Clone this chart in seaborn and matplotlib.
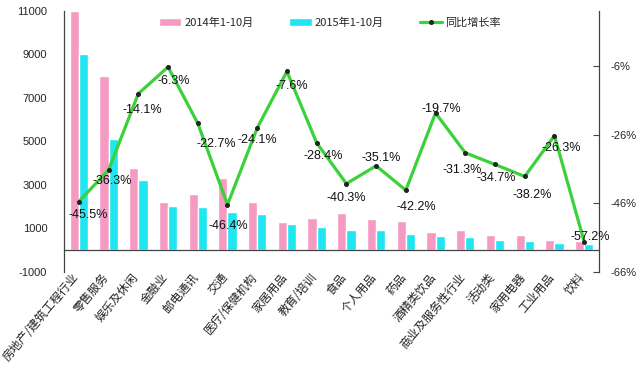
import numpy as np
import pandas as pd
import matplotlib
matplotlib.use('Agg')
import matplotlib.pyplot as plt
import seaborn as sns
from matplotlib.ticker import FixedLocator

# Data
categories = ['房地产/建筑工程行业', '零售服务', '娱乐及休闲', '金融业', '邮电通讯', '交通',
              '医疗/保健机构', '家居用品', '教育/培训', '食品', '个人用品', '药品',
              '酒精类饮品', '商业及服务性行业', '活动类', '家用电器', '工业用品', '饮料']
sales_2014 = [11000, 8000, 3800, 2200, 2600, 3300, 2200, 1300, 1500, 1700, 1450, 1320,
              820, 920, 720, 720, 460, 420]
sales_2015 = [9000, 5100, 3250, 2050, 2000, 1750, 1650, 1200, 1050, 950, 920, 750,
              640, 610, 460, 430, 340, 280]
growth = [-45.5, -36.3, -14.1, -6.3, -22.7, -46.4, -24.1, -7.6, -28.4, -40.3, -35.1,
          -42.2, -19.7, -31.3, -34.7, -38.2, -26.3, -57.2]
series_names = ['2014年1-10月', '2015年1-10月']
line_name = '同比增长率'
left_ticks = [-1000, 1000, 3000, 5000, 7000, 9000, 11000]
right_ticks = [-66, -46, -26, -6]

# label nudges (pixels) so the percent labels sit like in the original
label_offsets = [(9, -13), (4, -11), (4, -16), (6, -14), (19, -21), (1, -21), (0, -12),
                 (5, -15), (7, -13), (0, -14), (5, 8), (10, -17), (6, 4), (-3, -17),
                 (1, -14), (7, -19), (7, -12), (6, 5)]

sns.set_style('white')
plt.rcParams['font.family'] = ['Noto Sans CJK SC', 'DejaVu Sans']

pink = '#F59AC3'
cyan = '#1FE6F0'
green = '#3BD13B'

df = pd.DataFrame({
    'cat': categories * 2,
    'value': sales_2014 + sales_2015,
    'year': [series_names[0]] * len(categories) + [series_names[1]] * len(categories),
})

fig = plt.figure(figsize=(6.4, 3.66), dpi=100)
ax = fig.add_axes([0.1, 0.257, 0.836, 0.713])

sns.barplot(data=df, x='cat', y='value', hue='year', palette=[pink, cyan],
            width=0.62, ax=ax, saturation=1)
ax.legend_.remove()
ax.set_xlim(-0.5, len(categories) - 0.5)
ax.set_ylim(-1000, 11000)
ax.set_yticks(left_ticks)
ax.set_yticklabels([str(t) for t in left_ticks], fontsize=8, family='Liberation Sans')
ax.set_xlabel('')
ax.set_ylabel('')

# x axis sits at zero
ax.spines['bottom'].set_position(('data', 0))
ax.spines['top'].set_visible(False)
ax.spines['right'].set_visible(False)
for s in ['left', 'bottom']:
    ax.spines[s].set_color('#444444')
    ax.spines[s].set_linewidth(0.9)
ax.set_xticks(range(len(categories)))
ax.set_xticklabels([])
ax.tick_params(axis='x', which='major', length=0)
ax.xaxis.set_minor_locator(FixedLocator(np.arange(0.5, len(categories) - 0.5, 1)))
ax.tick_params(axis='x', which='minor', length=4, direction='out', color='#444444')
ax.tick_params(axis='y', length=0, pad=12)

# category names hang under the zero line, rotated
for i, name in enumerate(categories):
    ax.annotate(name, (i, 0), xytext=(-2, -25), textcoords='offset pixels',
                rotation=50, rotation_mode='anchor', ha='right', va='center',
                fontsize=8.5, color='#222222', annotation_clip=False)

ax2 = ax.twinx()
sns.lineplot(x=np.arange(len(categories)), y=growth, ax=ax2, color=green, lw=2.3,
             marker='o', markersize=2.8, markerfacecolor='#222222',
             markeredgecolor='#222222', label=line_name)
ax2.legend_.remove()
ax2.set_ylim(-66, 10)
ax2.set_yticks(right_ticks)
ax2.set_yticklabels([f'{t}%' for t in right_ticks], fontsize=8, family='Liberation Sans')
ax2.tick_params(axis='y', direction='in', length=4, pad=8, color='#444444')
for s in ['top', 'left', 'bottom']:
    ax2.spines[s].set_visible(False)
ax2.spines['right'].set_color('#444444')
ax2.spines['right'].set_linewidth(0.9)

for i, (g, off) in enumerate(zip(growth, label_offsets)):
    ax2.annotate(f'{g}%', (i, g), xytext=off, textcoords='offset pixels',
                 ha='center', va='center', fontsize=9, family='Liberation Sans',
                 color='#111111')

h1, l1 = ax.get_legend_handles_labels()
h2, l2 = ax2.get_legend_handles_labels()
fig.legend(h1 + h2, l1 + l2, loc='center', bbox_to_anchor=(330 / 640, 1 - 23 / 366),
           ncol=3, frameon=False, fontsize=8, handlelength=2.0, columnspacing=3.2,
           handletextpad=0.3)

fig.savefig('out.png', dpi=100)
